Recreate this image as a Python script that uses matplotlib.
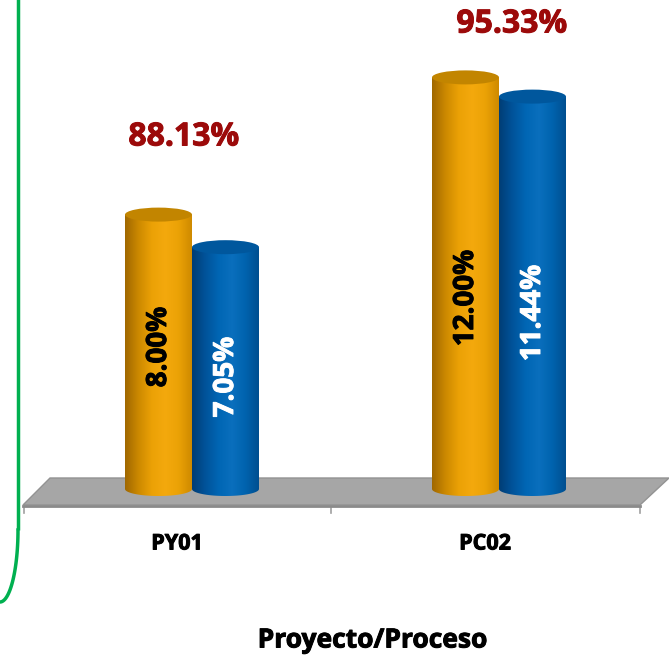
import numpy as np
import matplotlib
matplotlib.use("Agg")
import matplotlib.pyplot as plt
from matplotlib.patches import Polygon, Ellipse, PathPatch
from matplotlib.path import Path
from matplotlib.colors import LinearSegmentedColormap
import matplotlib.patheffects as pe

# ---- data ----
categories = ["PY01", "PC02"]
series_a = [8.00, 12.00]      # orange
series_b = [7.05, 11.44]      # blue
totals = [88.13, 95.33]
a_labels = ["8.00%", "12.00%"]
b_labels = ["7.05%", "11.44%"]
total_labels = ["88.13%", "95.33%"]
xlabel = "Proyecto/Proceso"

FONT = ["Open Sans", "DejaVu Sans"]
W, H = 669, 658
fig = plt.figure(figsize=(W / 100, H / 100), dpi=100)
ax = fig.add_axes([0, 0, 1, 1])

# pixel mapping: y=0 at pixel 489 from top, 34.3 px per unit
PXU = 34.3
Y0 = 489
ax.set_ylim((Y0 - H) / PXU, Y0 / PXU)
CX0, CSTEP = 192, 307
ax.set_xlim(-CX0 / CSTEP, (W - CX0) / CSTEP)
ax.axis("off")


def X(px):
    return (px - CX0) / CSTEP


def Y(py):
    return (Y0 - py) / PXU


def heavy(color):
    return [pe.withStroke(linewidth=0.7, foreground=color)]


# floor parallelogram
floor = Polygon([(X(23), Y(505)), (X(50), Y(478)), (X(669), Y(478)), (X(640), Y(505))],
                closed=True, facecolor="#a6a6a6", edgecolor="#939393", lw=1.0, zorder=1)
ax.add_patch(floor)
ax.plot([X(23), X(640)], [Y(505.5)] * 2, color="#8a8a8a", lw=2.0, zorder=1.5)
# axis line + ticks
for tx in [24, 331, 640]:
    ax.plot([X(tx)] * 2, [Y(507), Y(513)], color="#a0a0a0", lw=1.2, zorder=1)

bw = 67 / CSTEP
eh = 14 / PXU

orange_cmap = LinearSegmentedColormap.from_list(
    "o", ["#a06800", "#cc8900", "#eba106", "#f4a90d", "#eba206", "#cf8a00"])
blue_cmap = LinearSegmentedColormap.from_list(
    "b", ["#003d75", "#00539a", "#0066b4", "#0a6fbd", "#0063ae", "#004f90"])
grad = np.linspace(0, 1, 200).reshape(1, -1)


def cylinder(xc, val, cmap, topcol, z):
    x0, x1 = xc - bw / 2, xc + bw / 2
    t = np.linspace(np.pi, 2 * np.pi, 40)
    bx = xc + bw / 2 * np.cos(t)
    by = 0 + eh / 2 * np.sin(t)
    verts = [(x0, val)] + list(zip(bx, by)) + [(x1, val), (x0, val)]
    patch = PathPatch(Path(verts), facecolor="none", edgecolor="none", zorder=z)
    ax.add_patch(patch)
    im = ax.imshow(grad, cmap=cmap, extent=[x0, x1, -eh, val], aspect="auto",
                   zorder=z, interpolation="bilinear")
    im.set_clip_path(patch)
    top = Ellipse((xc, val), bw, eh, facecolor=topcol, edgecolor="none", zorder=z + 0.1)
    ax.add_patch(top)


total_pos = [(184, 137), (512, 24)]
cat_pos = [177, 485]
a_off = [0.14, -0.43]   # label placement tweaks (data units)
b_off = [-0.26, -0.59]
for i, cat in enumerate(categories):
    xa = i - bw / 2
    xb = i + bw / 2
    cylinder(xa, series_a[i], orange_cmap, "#c28500", 3)
    cylinder(xb, series_b[i], blue_cmap, "#00579d", 4)
    ax.text(xa, series_a[i] / 2 + a_off[i], a_labels[i], rotation=90, ha="center", va="center",
            fontsize=20, fontweight="bold", color="black", family=FONT, zorder=6,
            path_effects=heavy("black"))
    ax.text(xb, series_b[i] / 2 + b_off[i], b_labels[i], rotation=90, ha="center", va="center",
            fontsize=20, fontweight="bold", color="white", family=FONT, zorder=6,
            path_effects=heavy("white"))
    ax.text(X(total_pos[i][0]), Y(total_pos[i][1]), total_labels[i], ha="center", va="center",
            fontsize=23, fontweight="bold", color="#9c0a0a", family=FONT, zorder=6,
            path_effects=heavy("#9c0a0a"))
    ax.text(X(cat_pos[i]), Y(544), cat,
            ha="center", va="center", fontsize=15.5, fontweight="bold", color="black", family=FONT,
            path_effects=heavy("black"))

ax.text(X(372), Y(640), xlabel, ha="center", va="center",
        fontsize=19, fontweight="bold", color="black", family=FONT,
        path_effects=heavy("black"))

# green border line (left)
gx = X(18)
ax.plot([gx, gx], [Y(-2), Y(530)], color="#00b050", lw=2.5, solid_capstyle="butt")
tt = np.linspace(0, np.pi / 2, 30)
rx, ry = 18, 72
ax.plot(X(0) + rx / CSTEP * np.cos(tt), Y(530) - ry / PXU * np.sin(tt), color="#00b050", lw=2.5)

fig.savefig("out.png", dpi=100)
